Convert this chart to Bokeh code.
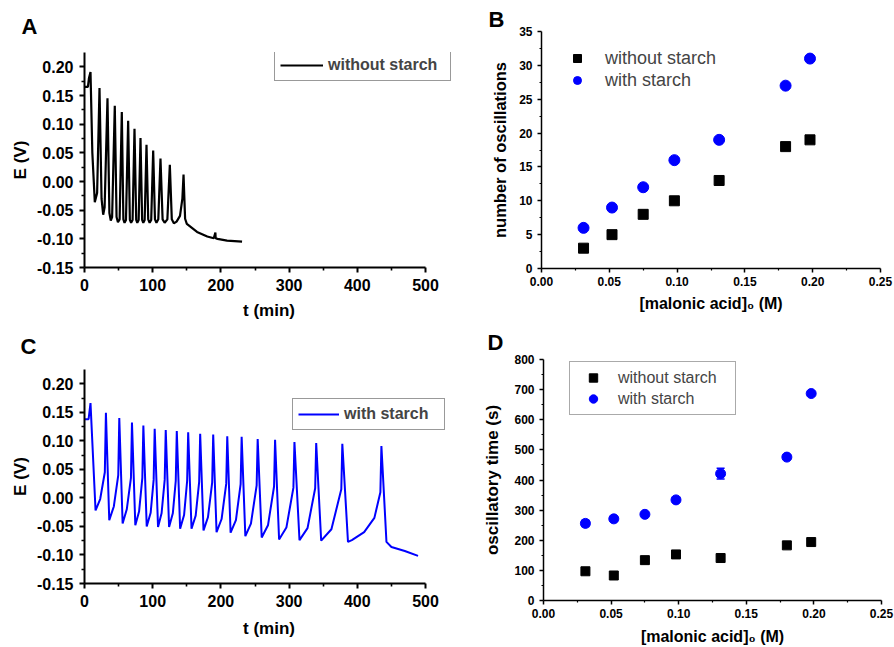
from bokeh.plotting import figure
from bokeh.models import (Range1d, FixedTicker, NumeralTickFormatter, Legend, LegendItem,
                          Title, Whisker, TeeHead, ColumnDataSource)
from bokeh.layouts import row, column
from bokeh.embed import file_html
from bokeh.resources import INLINE

FONT = "Liberation Sans"
BLUE = "#0000ff"

# ---------------- data ----------------
# Panel A: potential trace without starch (t in min, E in V)
a_t = [0, 5, 6.5, 8.8, 11.5, 15.1, 18.5, 22, 25, 27.4, 29.5, 33.7, 36.5, 38.5, 40.5, 44.4,
       47, 49, 51.5, 54.7, 57, 58.7, 60.8, 64, 66.5, 68.3, 70.5, 73.3, 75.8, 77.4, 79.4, 82.1,
       84.5, 86.2, 88.2, 90.9, 93.4, 95.5, 97.8, 100.7, 103.3, 105.5, 108.2, 111.4, 114.5,
       117.5, 121.5, 125.1, 128, 131, 135, 140, 143.5, 145.2, 147.5, 150, 165, 180, 189.5,
       191.9, 192.3, 195, 209, 220, 231]
a_E = [0.165, 0.165, 0.180, 0.191, 0.050, -0.036, -0.020, 0.163, -0.030, -0.058, -0.045, 0.145,
       -0.055, -0.068, -0.062, 0.132, -0.062, -0.071, -0.066, 0.121, -0.066, -0.072, -0.067, 0.106,
       -0.067, -0.072, -0.067, 0.092, -0.067, -0.072, -0.067, 0.076, -0.067, -0.072, -0.067, 0.064,
       -0.066, -0.072, -0.067, 0.054, -0.066, -0.072, -0.066, 0.040, -0.066, -0.072, -0.066, 0.029,
       -0.066, -0.073, -0.070, -0.060, -0.030, 0.012, -0.065, -0.074, -0.088, -0.096, -0.099,
       -0.089, -0.099, -0.100, -0.103, -0.104, -0.105]

# Panel C: potential trace with starch
c_t = [0, 6, 8.8, 16.2, 23, 29.8, 31.4, 36.3, 43, 49.5, 51, 55.9, 62, 68.1, 69.6, 74.5, 80, 84.8,
       86.3, 91.2, 97, 101.4, 102.9, 107.8, 113, 117.6, 119.1, 124, 129.5, 133.8, 135.3, 140.2,
       146, 150.5, 152, 156.9, 163, 168.1, 169.6, 174.5, 181, 187.2, 188.7, 193.6, 201, 207.8,
       209.3, 214.2, 222, 228.9, 230.4, 235.8, 244, 252.4, 253.9, 259.8, 269, 277.9, 279.4,
       285.3, 296, 306.3, 307.8, 315.2, 327, 338.2, 339.7, 347, 362, 376.5, 378, 386.3, 392,
       410, 425, 433.8, 435.3, 442.7, 450, 469.6, 489]
c_E = [0.138, 0.138, 0.166, -0.022, -0.002, 0.045, 0.149, -0.039, -0.015, 0.040, 0.140, -0.045,
       -0.020, 0.035, 0.132, -0.048, -0.024, 0.035, 0.127, -0.050, -0.026, 0.032, 0.121, -0.051,
       -0.027, 0.032, 0.119, -0.051, -0.027, 0.030, 0.117, -0.054, -0.030, 0.030, 0.115, -0.054,
       -0.031, 0.028, 0.1125, -0.057, -0.034, 0.027, 0.111, -0.060, -0.037, 0.025, 0.108, -0.061,
       -0.039, 0.024, 0.107, -0.067, -0.045, 0.022, 0.103, -0.0695, -0.048, 0.020, 0.102, -0.073,
       -0.052, 0.018, 0.098, -0.074, -0.053, 0.017, 0.096, -0.075, -0.055, 0.015, 0.095, -0.077,
       -0.074, -0.060, -0.035, 0.010, 0.091, -0.077, -0.086, -0.093, -0.1016]

# Panels B and D
conc = [0.031, 0.052, 0.075, 0.098, 0.131, 0.180, 0.198]
osc_without = [3, 5, 8, 10, 13, 18, 19]
osc_with = [6, 9, 12, 16, 19, 27, 31]
time_without = [97, 83, 134, 153, 141, 183, 194]
time_without_err = [7, 6, 7, 8, 7, 8, 8]
time_with = [256, 271, 286, 334, 421, 476, 687]
time_with_err = [10, 8, 6, 7, 18, 6, 5]

# ticks
t_ticks = [0, 100, 200, 300, 400, 500]
t_minor = [50, 150, 250, 350, 450]
E_ticks = [-0.15, -0.10, -0.05, 0.00, 0.05, 0.10, 0.15, 0.20]
E_minor = [-0.125, -0.075, -0.025, 0.025, 0.075, 0.125, 0.175]
c_ticks = [0.00, 0.05, 0.10, 0.15, 0.20, 0.25]
c_minor = [0.025, 0.075, 0.125, 0.175, 0.225]
osc_ticks = [0, 5, 10, 15, 20, 25, 30, 35]
osc_minor = [2.5, 7.5, 12.5, 17.5, 22.5, 27.5, 32.5]
time_ticks = [0, 100, 200, 300, 400, 500, 600, 700, 800]
time_minor = [50, 150, 250, 350, 450, 550, 650, 750]


def make_fig(w, h, bl, br, bt, bb, xr, yr):
    p = figure(width=w, height=h, x_range=Range1d(*xr), y_range=Range1d(*yr),
               output_backend="svg", toolbar_location=None,
               min_border_left=bl, min_border_right=br, min_border_top=bt, min_border_bottom=bb)
    p.outline_line_color = None
    p.xgrid.visible = False
    p.ygrid.visible = False
    p.background_fill_color = "white"
    p.border_fill_color = "white"
    return p


def style_axis(ax, ticks, minor, fmt, tick_size, label, label_size, lw, tick_out, std, lstd, bounds):
    ax.ticker = FixedTicker(ticks=ticks, minor_ticks=minor)
    ax.formatter = NumeralTickFormatter(format=fmt)
    ax.bounds = bounds
    ax.axis_line_width = lw
    ax.axis_line_color = "black"
    ax.major_tick_line_width = lw
    ax.minor_tick_line_width = lw * 0.8
    ax.major_tick_line_color = "black"
    ax.minor_tick_line_color = "black"
    ax.major_tick_in = 0
    ax.major_tick_out = tick_out
    ax.minor_tick_in = 0
    ax.minor_tick_out = max(2, tick_out - 2)
    ax.major_label_text_font = FONT
    ax.major_label_text_font_style = "bold"
    ax.major_label_text_font_size = tick_size
    ax.major_label_text_color = "black"
    ax.major_label_standoff = std
    ax.axis_label = label
    ax.axis_label_text_font = FONT
    ax.axis_label_text_font_style = "bold"
    ax.axis_label_text_font_size = label_size
    ax.axis_label_text_color = "black"
    ax.axis_label_standoff = lstd


def panel_title(p, text, offset, standoff, valign):
    p.add_layout(Title(text=text, align="left", offset=offset, standoff=standoff,
                       vertical_align=valign,
                       text_font=FONT, text_font_style="bold", text_font_size="22px",
                       text_color="black"), "above")


# ---------------- Panel A ----------------
pA = make_fig(453, 323, 84, 0, 52, 56, (0, 541), (-0.15, 0.225))
style_axis(pA.xaxis[0], t_ticks, t_minor, "0", "16px", "t (min)", "17px", 2, 5, 6, 7, (0, 500))
style_axis(pA.yaxis[0], E_ticks, E_minor, "0.00", "16px", "E (V)", "17px", 2, 5, 6, 4, (-0.15, 0.225))
rA = pA.line(a_t, a_E, line_color="black", line_width=2.2)
legA = Legend(items=[LegendItem(label="without starch", renderers=[rA])], location=(190, 186),
              padding=5, margin=0, spacing=0, glyph_width=43, glyph_height=20, label_height=20,
              label_width=117, label_standoff=5, border_line_color="#333333", border_line_width=1,
              label_text_font=FONT, label_text_font_style="bold", label_text_font_size="16px",
              background_fill_color="white", background_fill_alpha=1)
pA.add_layout(legA)
panel_title(pA, "A", -63, 23, "top")

# ---------------- Panel B ----------------
pB = make_fig(441, 323, 88, 14, 31, 55, (0, 0.25), (0, 35))
style_axis(pB.xaxis[0], c_ticks, c_minor, "0.00", "12px", "[malonic acid]\u2080 (M)", "16px", 1.5, 4, 4, 6, (0, 0.25))
style_axis(pB.yaxis[0], osc_ticks, osc_minor, "0", "12px", "number of oscillations", "16.5px", 1.5, 4, 5, 7, (0, 35))
rBs = pB.scatter(conc, osc_without, marker="square", size=10, color="black")
rBc = pB.scatter(conc, osc_with, marker="circle", size=11, color=BLUE)
legB = Legend(items=[LegendItem(label="without starch", renderers=[rBs]),
                     LegendItem(label="with starch", renderers=[rBc])],
              location=(26, 177), padding=0, margin=0, spacing=0, glyph_width=20, glyph_height=22,
              label_height=22, label_standoff=18, border_line_color=None, background_fill_alpha=0,
              label_text_font=FONT, label_text_font_size="18px")
pB.add_layout(legB)
panel_title(pB, "B", -53, 0, "bottom")

# ---------------- Panel C ----------------
pC = make_fig(453, 324, 84, 0, 46, 64, (0, 541), (-0.15, 0.225))
style_axis(pC.xaxis[0], t_ticks, t_minor, "0", "16px", "t (min)", "17px", 2, 5, 6, 9, (0, 500))
style_axis(pC.yaxis[0], E_ticks, E_minor, "0.00", "16px", "E (V)", "17px", 2, 5, 6, 4, (-0.15, 0.225))
rC = pC.line(c_t, c_E, line_color=BLUE, line_width=2)
legC = Legend(items=[LegendItem(label="with starch", renderers=[rC])], location=(208, 153),
              padding=5, margin=0, spacing=0, glyph_width=41, glyph_height=20, label_height=20,
              label_width=95, label_standoff=5, border_line_color="#333333", border_line_width=1,
              label_text_font=FONT, label_text_font_style="bold", label_text_font_size="16px",
              background_fill_color="white", background_fill_alpha=1)
pC.add_layout(legC)
panel_title(pC, "C", -64, 18, "top")

# ---------------- Panel D ----------------
pD = make_fig(441, 324, 90, 13, 35, 46, (0, 0.25), (0, 800))
style_axis(pD.xaxis[0], c_ticks, c_minor, "0.00", "12px", "[malonic acid]\u2080 (M)", "16px", 1.5, 4, 4, 7, (0, 0.25))
style_axis(pD.yaxis[0], time_ticks, time_minor, "0", "12px", "oscillatory time (s)", "17px", 1.5, 4, 5, 9, (0, 800))
src_wo = ColumnDataSource(dict(x=conc,
                               lo=[v - e for v, e in zip(time_without, time_without_err)],
                               up=[v + e for v, e in zip(time_without, time_without_err)]))
src_w = ColumnDataSource(dict(x=conc,
                              lo=[v - e for v, e in zip(time_with, time_with_err)],
                              up=[v + e for v, e in zip(time_with, time_with_err)]))
for src, col in ((src_wo, "black"), (src_w, BLUE)):
    pD.add_layout(Whisker(source=src, base="x", lower="lo", upper="up", line_color=col,
                          line_width=1.5,
                          upper_head=TeeHead(size=8, line_color=col, line_width=1.5),
                          lower_head=TeeHead(size=8, line_color=col, line_width=1.5)))
rDs = pD.scatter(conc, time_without, marker="square", size=9, color="black")
rDc = pD.scatter(conc, time_with, marker="circle", size=10, color=BLUE)
legD = Legend(items=[LegendItem(label="without starch", renderers=[rDs]),
                     LegendItem(label="with starch", renderers=[rDc])],
              location=(26, 185), padding=5, margin=0, spacing=0, glyph_width=36, glyph_height=21,
              label_height=21, label_width=112, label_standoff=7, border_line_color="#555555",
              border_line_width=1.5, background_fill_color="white", background_fill_alpha=1,
              label_text_font=FONT, label_text_font_size="16px")
pD.add_layout(legD)
panel_title(pD, "D", -56, 9, "bottom")

layout = column(row(column(pA), column(pB)), row(column(pC), column(pD)))
open("out.html", "w").write(file_html(layout, INLINE))
